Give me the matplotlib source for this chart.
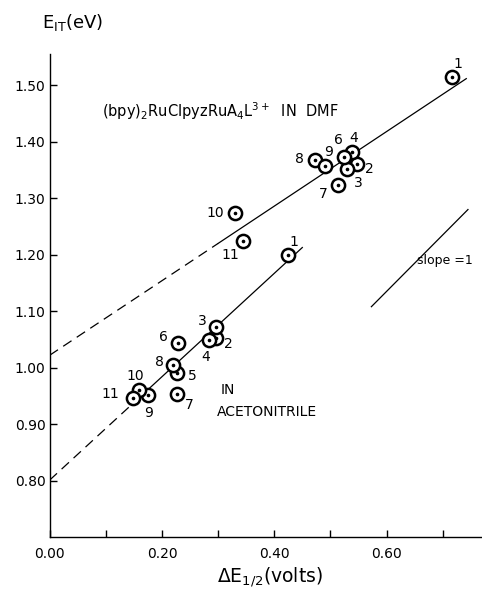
import matplotlib
matplotlib.use('Agg')
import matplotlib.pyplot as plt
import numpy as np

# upper series: (bpy)2RuClpyzRuA4L 3+ in DMF
dmf_id = ['1', '2', '3', '4', '6', '7', '8', '9', '10', '11']
dmf_x = [0.717, 0.548, 0.530, 0.538, 0.525, 0.514, 0.473, 0.490, 0.330, 0.344]
dmf_y = [1.514, 1.361, 1.351, 1.382, 1.373, 1.323, 1.367, 1.357, 1.274, 1.224]
dmf_off = [(6, 13), (12, -5), (11, -14), (2, 14), (-6, 17), (-15, -9),
           (-16, 1), (4, 14), (-20, 0), (-12, -14)]

# lower series: in acetonitrile
acn_id = ['1', '2', '3', '4', '5', '6', '7', '8', '9', '10', '11']
acn_x = [0.424, 0.297, 0.296, 0.284, 0.226, 0.228, 0.226, 0.220, 0.176, 0.160, 0.148]
acn_y = [1.200, 1.053, 1.072, 1.049, 0.990, 1.043, 0.953, 1.004, 0.951, 0.961, 0.947]
acn_off = [(6, 13), (12, -6), (-14, 6), (-3, -17), (16, -3), (-14, 6), (13, -11),
           (-14, 3), (0, -18), (-4, 14), (-22, 4)]

# fitted lines (slope, intercept) and slope=1 reference
dmf_fit = (0.66, 1.022)
acn_fit = (0.915, 0.801)
ref_x = [0.573, 0.745]
ref_y = [1.108, 1.280]

fig = plt.figure(figsize=(4.82, 5.89), dpi=100)
ax = fig.add_axes([0.103, 0.088, 0.897, 0.820])

def fitline(fit, x0, x1, **kw):
    xs = np.array([x0, x1])
    ax.plot(xs, fit[0] * xs + fit[1], color='black', lw=0.9, **kw)

fitline(dmf_fit, 0.0, 0.30, ls=(0, (8, 5)))
fitline(dmf_fit, 0.30, 0.742)
fitline(acn_fit, 0.0, 0.15, ls=(0, (8, 5)))
fitline(acn_fit, 0.15, 0.45)
ax.plot(ref_x, ref_y, color='black', lw=0.9)

for xs, ys in [(dmf_x, dmf_y), (acn_x, acn_y)]:
    ax.plot(xs, ys, 'o', ms=9.5, mfc='white', mec='black', mew=1.8, ls='none', zorder=3)
    ax.plot(xs, ys, 'o', ms=1.6, color='black', ls='none', zorder=4)

for ids, xs, ys, offs in [(dmf_id, dmf_x, dmf_y, dmf_off), (acn_id, acn_x, acn_y, acn_off)]:
    for i, x, y, o in zip(ids, xs, ys, offs):
        ax.annotate(i, (x, y), xytext=o, textcoords='offset pixels',
                    ha='center', va='center', fontsize=10)

ax.text(0.093, 1.443, r'(bpy)$_2$RuClpyzRuA$_4$L$^{3+}$  IN  DMF', fontsize=10.5)
ax.text(0.305, 0.960, 'IN', fontsize=10, va='center')
ax.text(0.298, 0.921, 'ACETONITRILE', fontsize=10, va='center')
ax.text(0.655, 1.19, 'slope =1', fontsize=9, va='center')

ax.set_xlim(0, 0.77)
ax.set_ylim(0.70, 1.555)
ax.set_xticks([0, 0.2, 0.4, 0.6])
ax.set_xticks([0.1, 0.3, 0.5, 0.7], minor=True)
ax.set_xticklabels(['0.00', '0.20', '0.40', '0.60'])
yt = [0.8, 0.9, 1.0, 1.1, 1.2, 1.3, 1.4, 1.5]
ax.set_yticks(yt)
ax.set_yticklabels(['%.2f' % v for v in yt])
ax.tick_params(direction='in', length=5, width=1, labelsize=10)
ax.tick_params(which='minor', direction='in', length=5, width=1)
ax.tick_params(axis='x', pad=7)
ax.tick_params(axis='y', pad=3)
for s in ['top', 'right']:
    ax.spines[s].set_visible(False)
for s in ['left', 'bottom']:
    ax.spines[s].set_linewidth(1.0)

fig.text(0.087, 0.962, r'E$_{\rm IT}$(eV)', fontsize=13, va='center')
fig.text(0.56, 0.021, r'$\Delta$E$_{1/2}$(volts)', fontsize=13.5, ha='center', va='center')

fig.savefig('out.png', dpi=100)
